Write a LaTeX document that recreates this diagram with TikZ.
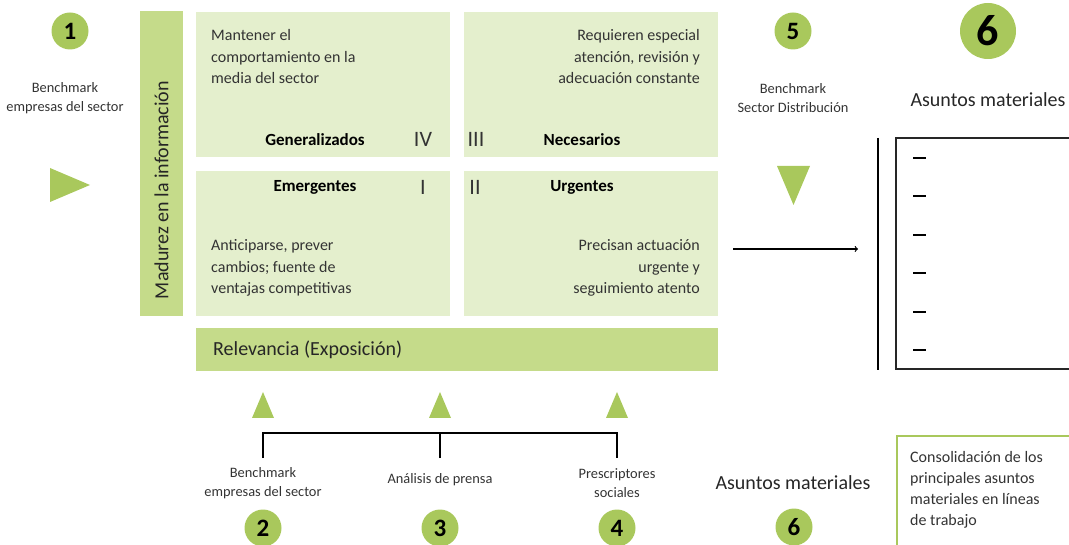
\documentclass[tikz,border=0pt]{standalone}
\usepackage{fontspec}
\setmainfont{Carlito}
\usepackage{xcolor}
\usetikzlibrary{positioning}
\definecolor{verdeclaro}{HTML}{E4EFCD}
\definecolor{verdemedio}{HTML}{C5DB8A}
\definecolor{verdefuerte}{HTML}{A9C85C}
\definecolor{gristexto}{HTML}{333333}
\begin{document}
\begin{tikzpicture}[x=1pt,y=-1pt,
	numero/.style={circle,fill=verdefuerte,inner sep=0pt,minimum size=37pt,font=\fontsize{25}{25}\selectfont\bfseries},
	rotulo/.style={align=center,text=gristexto,inner sep=0pt,font=\fontsize{14.4}{19}\selectfont},
	texto/.style={text=gristexto,inner sep=0pt,font=\fontsize{16}{21.5}\selectfont},
	titulo/.style={text=black,inner sep=0pt,font=\fontsize{17}{20}\selectfont\bfseries},
	romano/.style={text=gristexto,inner sep=0pt,font=\fontsize{22}{22}\selectfont},
	grande/.style={text=black!85,inner sep=0pt,font=\fontsize{20}{24}\selectfont},
	cuadro/.style={fill=verdeclaro},
	punta/.style={fill=verdefuerte}]
		\useasboundingbox (0,0) rectangle (1069,545);
		\fill[verdemedio] (140,11) rectangle (183,316);
		\node[grande,rotate=90] (madurez) at (161.5,190) {Madurez en la información};
		\fill[cuadro] (196,12) rectangle (450,157);
		\fill[cuadro] (464,12) rectangle (718,157);
		\fill[cuadro] (196,171) rectangle (450,316);
		\fill[cuadro] (464,171) rectangle (718,316);
		\fill[verdemedio] (196,328) rectangle (718,371);
		\node[grande,anchor=west] (relevancia) at (213,350) {Relevancia (Exposición)};
			\node[texto,align=left,anchor=west] (mantener) at (211,57) {Mantener el\\comportamiento en la\\media del sector};
			\node[titulo] (generalizados) at (315,140) {Generalizados};
			\node[romano] (cuatro) at (423,139) {IV};
			\node[texto,align=right,anchor=east] (requieren) at (700,57) {Requieren especial\\atención, revisión y\\adecuación constante};
			\node[romano] (tres) at (476,139) {III};
			\node[titulo] (necesarios) at (582,140) {Necesarios};
			\node[titulo] (emergentes) at (315,187.5) {Emergentes};
			\node[romano] (uno) at (423,187) {I};
			\node[romano] (dos) at (475,187) {II};
			\node[titulo] (urgentes) at (582,187.5) {Urgentes};
			\node[texto,align=left,anchor=west] (anticiparse) at (211,268) {Anticiparse, prever\\cambios; fuente de\\ventajas competitivas};
			\node[texto,align=right,anchor=east] (precisan) at (700,268) {Precisan actuación\\urgente y\\seguimiento atento};
		\node[numero] (n1) at (70,31) {1};
		\node[rotulo] (bench1) at (65,98) {Benchmark\\empresas del sector};
		\fill[punta] (50,168) -- (90,185) -- (50,202) -- cycle;
		\node[numero] (n5) at (793,31) {5};
		\node[rotulo] (bench5) at (793,98) {Benchmark\\Sector Distribución};
		\fill[punta] (777,166) -- (810,166) -- (793.5,205) -- cycle;
		\node[numero,minimum size=56pt,font=\fontsize{44}{44}\selectfont\bfseries] (n6a) at (988,31) {6};
		\node[grande] (asuntos1) at (988,100) {Asuntos materiales};
		\coordinate (salida) at (733,249);
		\coordinate (llegada) at (858,249);
		\draw[->,line width=1.2pt] (salida) -- (llegada);
		\draw[line width=2pt] (878,138) -- (878,370);
		\draw[line width=2pt,black!85] (896,138) rectangle (1085,369);
		\foreach \y in {158,196,235,273,312,350}
			\draw[line width=1.6pt] (913,\y) -- (926,\y);
		\foreach \x in {263,440,617}
			\fill[punta] (\x-11,418) -- (\x+11,418) -- (\x,392) -- cycle;
		\coordinate (c2) at (263,458);
		\coordinate (c3) at (440,458);
		\coordinate (c4) at (617,458);
		\coordinate (t2) at (263,433);
		\coordinate (t3) at (440,433);
		\coordinate (t4) at (617,433);
		\draw[line width=1.6pt] (c2) -- (t2) -- (t4) -- (c4);
		\draw[line width=1.6pt] (c3) -- (t3);
		\node[rotulo] (bench2) at (263,483) {Benchmark\\empresas del sector};
		\node[rotulo] (prensa) at (440,480) {Análisis de prensa};
		\node[rotulo] (prescriptores) at (617,483) {Prescriptores\\sociales};
		\node[numero] (n2) at (263,528) {2};
		\node[numero] (n3) at (440,528) {3};
		\node[numero] (n4) at (617,528) {4};
		\node[grande] (asuntos2) at (793,483) {Asuntos materiales};
		\node[numero] (n6b) at (794,527) {6};
		\draw[line width=2pt,verdefuerte] (897,560) |- (1085,436);
		\node[texto,align=left,anchor=west,font=\fontsize{16}{21}\selectfont] (consolidacion) at (910,489.5) {Consolidación de los\\principales asuntos\\materiales en líneas\\de trabajo};
	\end{tikzpicture}
\end{document}
